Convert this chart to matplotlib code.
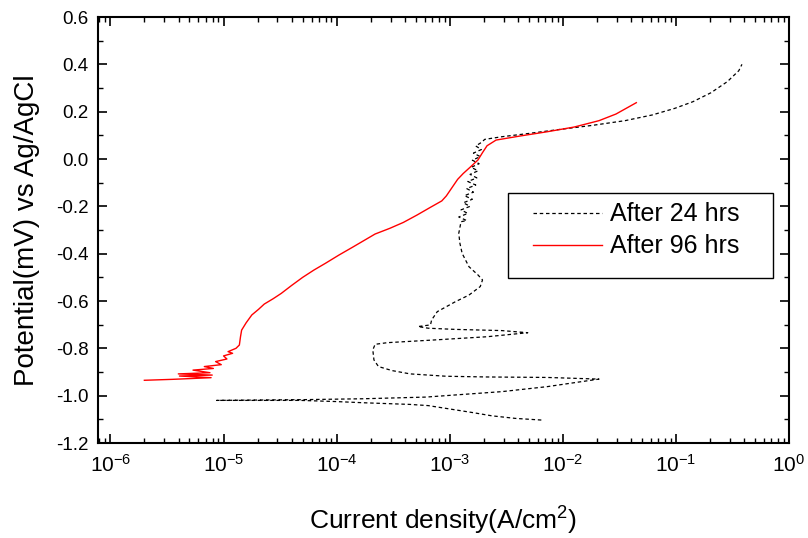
import numpy as np
import matplotlib
matplotlib.use("Agg")
import matplotlib.pyplot as plt
from matplotlib.patches import Rectangle
from matplotlib.ticker import MultipleLocator, LogLocator, FormatStrFormatter

plt.rcParams['font.family'] = ['Liberation Sans', 'DejaVu Sans']
plt.rcParams['mathtext.default'] = 'regular'
plt.rcParams['axes.unicode_minus'] = False

# After 24 hrs: log10(current density, A/cm2) and potential (V)
logi_24 = [-2.19, -2.42, -2.63, -2.79, -3.03, -3.19, -3.35, -3.76, -4.00, -4.32, -4.64, -5.06,
           -4.32, -3.76, -3.21, -2.95, -2.54, -2.14, -1.68,
           -2.14, -2.67, -3.03, -3.35, -3.51, -3.63, -3.67, -3.68, -3.66, -3.55, -3.15, -2.67, -2.31,
           -2.54, -2.95, -3.19, -3.28, -3.17, -3.16, -3.11, -2.95, -2.83, -2.73, -2.71, -2.75, -2.83,
           -2.89, -2.91, -2.92, -2.90,
           -2.85, -2.92, -2.84, -2.90, -2.82, -2.88, -2.80, -2.87, -2.79, -2.85, -2.77, -2.84,
           -2.76, -2.82, -2.75, -2.81, -2.74, -2.80, -2.73, -2.79, -2.72, -2.77, -2.72,
           -2.69, -2.54, -2.30, -2.06, -1.74, -1.45, -1.21, -1.01, -0.85, -0.69, -0.545, -0.444, -0.416]
pot_24 = [-1.103, -1.096, -1.085, -1.072, -1.054, -1.042, -1.037, -1.030, -1.025, -1.020, -1.020, -1.020,
          -1.017, -1.013, -1.006, -0.997, -0.983, -0.962, -0.930,
          -0.923, -0.921, -0.918, -0.908, -0.894, -0.877, -0.849, -0.807, -0.783, -0.776, -0.765, -0.751, -0.734,
          -0.725, -0.720, -0.715, -0.708, -0.701, -0.680, -0.645, -0.603, -0.575, -0.539, -0.511, -0.490, -0.455,
          -0.399, -0.356, -0.314, -0.265,
          -0.260, -0.245, -0.230, -0.215, -0.200, -0.185, -0.170, -0.155, -0.140, -0.125, -0.110, -0.095,
          -0.080, -0.065, -0.050, -0.035, -0.020, -0.005, 0.010, 0.025, 0.040, 0.055, 0.070,
          0.083, 0.094, 0.108, 0.123, 0.142, 0.162, 0.186, 0.214, 0.242, 0.280, 0.327, 0.373, 0.400]

# After 96 hrs
logi_96 = [-5.70, -5.45, -5.11, -5.39, -5.10, -5.40, -5.12, -5.27, -5.09, -5.17, -5.02, -5.07,
           -4.97, -5.00, -4.92, -4.96, -4.89, -4.86, -4.85, -4.84, -4.80, -4.75, -4.69, -4.64,
           -4.56, -4.49, -4.40, -4.30, -4.20, -4.10, -3.98, -3.86, -3.76, -3.66, -3.53, -3.41,
           -3.29, -3.17, -3.07, -3.03, -2.99, -2.93, -2.88, -2.82, -2.75, -2.71, -2.67, -2.59,
           -2.38, -2.14, -1.90, -1.68, -1.53, -1.35]
pot_96 = [-0.935, -0.931, -0.924, -0.917, -0.913, -0.908, -0.903, -0.892, -0.885, -0.877, -0.869, -0.856,
          -0.845, -0.832, -0.821, -0.814, -0.800, -0.786, -0.751, -0.723, -0.692, -0.659, -0.635, -0.613,
          -0.590, -0.568, -0.535, -0.500, -0.469, -0.441, -0.406, -0.373, -0.345, -0.317, -0.293, -0.268,
          -0.237, -0.204, -0.177, -0.156, -0.128, -0.086, -0.061, -0.035, -0.004, 0.027, 0.056, 0.080,
          0.097, 0.115, 0.135, 0.162, 0.190, 0.238]

y_ticks = [0.6, 0.4, 0.2, 0.0, -0.2, -0.4, -0.6, -0.8, -1.0, -1.2]

fig = plt.figure(figsize=(8.08, 5.38), dpi=100)
ax = fig.add_axes([98 / 808, 1 - 443 / 538, (789 - 98) / 808, (443 - 17) / 538])

ax.plot(10 ** np.array(logi_24), pot_24, color='black', lw=0.9, linestyle=(0, (2.8, 2.2)),
        label='After 24 hrs')
ax.plot(10 ** np.array(logi_96), pot_96, color='red', lw=1.0, label='After 96 hrs')

ax.set_xscale('log')
ax.set_xlim(10 ** -6.11, 1)
ax.set_ylim(-1.2, 0.6)
ax.set_yticks(y_ticks)
ax.yaxis.set_minor_locator(MultipleLocator(0.1))
ax.yaxis.set_major_formatter(FormatStrFormatter('%.1f'))
ax.xaxis.set_major_locator(LogLocator(base=10, numticks=20))
ax.xaxis.set_minor_locator(LogLocator(base=10, subs=np.arange(2, 10), numticks=20))

for s in ax.spines.values():
    s.set_linewidth(1.5)
ax.tick_params(which='both', direction='in', top=True, right=True)
ax.tick_params(which='major', length=6.5, width=1.2)
ax.tick_params(which='minor', length=3.6, width=1.0)
ax.tick_params(axis='y', pad=7, labelsize=13.5)
ax.tick_params(axis='x', pad=8, labelsize=15)

ax.set_xlabel('Current density(A/cm$^2$)', fontsize=19)
ax.set_ylabel('Potential(mV) vs Ag/AgCl', fontsize=20)
ax.xaxis.set_label_coords(0.5, -0.145)
ax.yaxis.set_label_coords(-0.084, 0.5)

# legend box
ax.add_patch(Rectangle((0.593, 0.387), 0.384, 0.200, transform=ax.transAxes,
                       facecolor='white', edgecolor='black', lw=1.0, zorder=4))
ax.legend(loc='upper left', bbox_to_anchor=(0.6295, 0.5646), frameon=False,
          fontsize=18, handlelength=2.76, handletextpad=0.32, labelspacing=0.32,
          borderpad=0, borderaxespad=0).set_zorder(5)

plt.savefig('out.png', dpi=100)
